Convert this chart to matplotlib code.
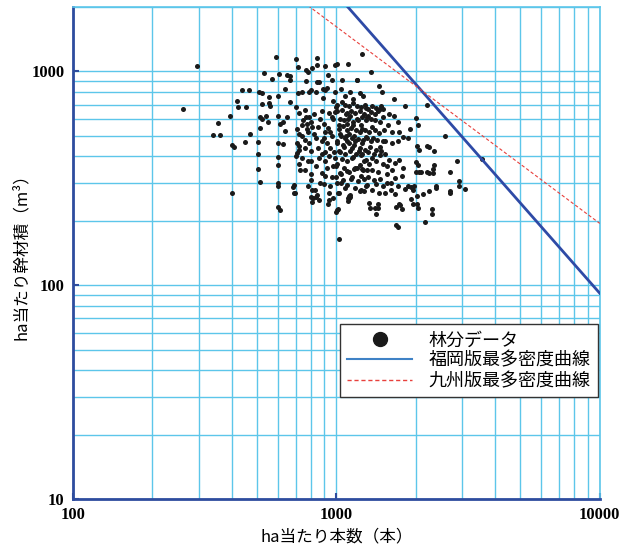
"""Stand data vs. maximum density curves (Fukuoka / Kyushu versions), log-log."""
import matplotlib
matplotlib.use("Agg")
import matplotlib.pyplot as plt
import numpy as np
from matplotlib.lines import Line2D
from matplotlib.ticker import LogLocator, NullFormatter, FixedFormatter, FixedLocator

JP = ["Noto Sans CJK JP", "DejaVu Sans"]

# stems per ha (N) and stem volume per ha (V, m3) for each stand
stand_n = [
    295, 262, 590, 703, 848, 718, 765, 780, 810, 845,
    905, 990, 1005, 1110, 530, 605, 570, 650, 665, 665,
    770, 845, 860, 930, 965, 1050, 1200, 640, 440, 465,
    510, 520, 555, 420, 422, 455, 520, 555, 560, 600,
    665, 718, 740, 790, 800, 835, 888, 905, 920, 888,
    975, 985, 1045, 1075, 1130, 1160, 1230, 1265, 396, 355,
    340, 362, 470, 400, 410, 450, 505, 505, 505, 512,
    400, 513, 513, 522, 540, 550, 602, 612, 625, 650,
    640, 602, 625, 602, 602, 602, 602, 602, 690, 698,
    705, 710, 720, 710, 720, 705, 720, 710, 730, 750,
    765, 775, 790, 762, 775, 810, 820, 790, 800, 780,
    800, 800, 810, 830, 845, 800, 865, 900, 905, 900,
    920, 905, 905, 920, 905, 900, 935, 945, 975, 990,
    1000, 1005, 1020, 1035, 1005, 1020, 990, 1005, 1035, 1040,
    1020, 1010, 1125, 1125, 1240, 1025, 1085, 1130, 1095, 1160,
    1085, 1150, 1115, 1180, 1215, 1250, 1160, 1200, 1250, 1305,
    1270, 1305, 1200, 1250, 1305, 1305, 1065, 1150,
    1250, 1350, 1195, 1455, 1490, 1650, 2200, 1820, 2010, 2050,
    1900, 1710, 1650, 1590, 1480, 1460, 1500, 1300, 1350, 1255,
    1240, 1360, 1460, 1570, 1630, 1730, 1790, 1870, 1710, 1630,
    1530, 1460, 1340, 1255, 2575, 2020, 2060, 2200, 2250, 2350,
    2010, 2050, 2010, 1980, 1920, 1950, 2060, 2090, 2200, 2250,
    2320, 2350, 2400, 2700, 2880, 2920, 2920, 2700, 2700, 3080,
    3560, 2250, 2030, 2130, 1920, 2020, 2300, 2170, 1740, 1680,
    1440, 1330, 1400, 1235, 1300, 1420, 1500, 1610, 1670, 1710,
    1780, 1870, 1790, 1730, 1670, 1590, 1530, 1460, 1360, 1300,
    1230, 1165, 1100, 1040, 1010, 1015, 1015, 1205, 1135, 1100,
    1115, 1115, 1670, 1730, 1830, 1610, 1530, 1360,
    930, 1000, 1110, 1110, 1340, 1440, 1420, 810, 815, 840,
    685, 690, 610, 2330, 2400, 2300, 1710, 1690, 1770, 2040,
    1960,
    1050, 1080, 1120, 1160, 1200, 1240, 1280, 1320, 1370, 1420,
    1010, 1050, 1100, 1140, 1180, 1230, 1270, 1320, 1400, 1440,
    1030, 1070, 1110, 1160, 1210, 1300, 1350, 1400, 1500, 1020,
    1060, 1100, 1140, 1190, 1230, 1280, 1330, 1400, 1450, 1520,
    1040, 1080, 1120, 1170, 1210, 1260, 1300, 1380, 1430, 1500,
    1010, 1060, 1100, 1170, 1230, 1290, 1350, 1420, 1480, 1030,
    1080, 1130, 1190, 1240, 1320, 1390, 1050, 1100, 1150, 1270,
    1330, 1420, 1500, 1560, 1000, 1070, 1120, 1180, 1260, 1360,
    1440, 1560, 1620, 1000, 1060, 1150, 1240, 1320, 1390, 1460,
    1560, 1080, 1180, 1270, 1450,
    720, 760, 820, 880, 940, 960, 740, 800, 850, 930,
    960, 840, 880, 740, 780, 720, 760, 850, 880, 950,
    980, 740, 860, 940, 970, 840, 760, 880, 960, 800,
    870, 950, 780, 940, 970, 860,
]
stand_v = [
    1055, 665, 1167, 1146, 1150, 1048, 1018, 995, 1035, 1075,
    1055, 1075, 1080, 1080, 980, 975, 920, 965, 950, 910,
    905, 890, 890, 960, 915, 910, 915, 830, 815, 815,
    800, 790, 760, 730, 680, 685, 705, 712, 690, 770,
    717, 795, 805, 800, 815, 805, 830, 815, 840, 750,
    730, 805, 830, 770, 805, 740, 795, 770, 620, 575,
    505, 505, 510, 455, 445, 465, 465, 410, 350, 305,
    270, 615, 545, 598, 620, 580, 620, 570, 580, 610,
    525, 460, 458, 397, 365, 302, 290, 232, 295, 270,
    680, 540, 510, 460, 448, 403, 370, 415, 345, 590,
    610, 570, 615, 480, 540, 550, 510, 460, 425, 383,
    383, 330, 280, 280, 265, 258, 600, 570, 520, 490,
    460, 420, 380, 355, 325, 298, 250, 520, 600, 645,
    680, 700, 560, 510, 460, 425, 395, 370, 335, 302,
    270, 225, 265, 258, 280, 165, 635, 620, 570, 560,
    500, 490, 460, 475, 425, 410, 398, 355, 350, 345,
    315, 295, 600, 540, 610, 490, 445, 440,
    1210, 990, 910, 850, 805, 740, 700, 690, 605, 560,
    540, 580, 620, 630, 690, 665, 665, 675, 645, 610,
    560, 550, 580, 560, 520, 520, 495, 490, 475, 460,
    475, 445, 445, 460, 497, 448, 430, 450, 445, 425,
    375, 365, 340, 290, 287, 278, 340, 340, 338, 333,
    333, 365, 290, 340, 380, 308, 290, 275, 270, 283,
    390, 275, 262, 267, 253, 240, 228, 198, 238, 192,
    240, 242, 230, 275, 290, 297, 292, 302, 318, 292,
    325, 292, 352, 385, 372, 385, 410, 405, 395, 385,
    365, 348, 343, 330, 302, 270, 228, 308, 315, 295,
    262, 257, 266, 240, 283, 280, 270, 280,
    240, 219, 255, 248, 230, 230, 216, 245, 255, 258,
    287, 270, 225, 350, 285, 215, 188, 232, 228, 230,
    241,
    720, 700, 690, 710, 690, 680, 700, 670, 690, 675,
    650, 660, 640, 655, 640, 650, 630, 620, 630, 650,
    600, 590, 600, 580, 590, 590, 600, 590, 610, 540,
    555, 530, 545, 530, 520, 530, 520, 530, 515, 530,
    500, 490, 510, 500, 485, 480, 495, 490, 480, 470,
    470, 455, 470, 455, 440, 430, 470, 430, 425, 420,
    410, 425, 410, 405, 420, 410, 390, 380, 395, 380,
    370, 380, 370, 360, 360, 355, 340, 355, 345, 345,
    340, 330, 345, 320, 310, 320, 325, 320, 310, 315,
    300, 285, 285, 275, 270,
    640, 660, 630, 650, 640, 610, 560, 580, 550, 545,
    500, 490, 470, 500, 520, 430, 440, 440, 410, 440,
    420, 395, 395, 400, 360, 360, 345, 335, 320, 310,
    300, 290, 290, 270, 255, 250,
]

# maximum density curves, V = a * N ** b
fukuoka_a, fukuoka_b = 3.65e7, -1.40
kyushu_a, kyushu_b = 9.31e5, -0.92

x_ticks = [100, 1000, 10000]
y_ticks = [10, 100, 1000]

GRID = "#5cc6ea"
AXIS = "#2e4c9e"

fig = plt.figure(figsize=(6.34, 5.54), dpi=100)
ax = fig.add_axes([0.115, 0.0993, 0.831, 0.888])
ax.set_xscale("log")
ax.set_yscale("log")
ax.set_xlim(100, 10000)
ax.set_ylim(10, 2000)

ax.xaxis.set_minor_locator(LogLocator(base=10, subs=np.arange(2, 10)))
ax.yaxis.set_minor_locator(LogLocator(base=10, subs=np.arange(2, 10)))
ax.xaxis.set_minor_formatter(NullFormatter())
ax.yaxis.set_minor_formatter(NullFormatter())
ax.xaxis.set_major_locator(FixedLocator(x_ticks))
ax.yaxis.set_major_locator(FixedLocator(y_ticks))
ax.xaxis.set_major_formatter(FixedFormatter([str(t) for t in x_ticks]))
ax.yaxis.set_major_formatter(FixedFormatter([str(t) for t in y_ticks]))

ax.grid(True, which="both", color=GRID, linewidth=1.0, zorder=0)
ax.set_axisbelow(True)
ax.tick_params(which="major", direction="in", length=4, width=1.5, color=AXIS, pad=6)
ax.tick_params(which="minor", length=0)
for lab in ax.get_xticklabels() + ax.get_yticklabels():
    lab.set_fontfamily("Liberation Serif")
    lab.set_fontweight("bold")
    lab.set_fontsize(12)

for side in ("left", "bottom"):
    ax.spines[side].set_color(AXIS)
    ax.spines[side].set_linewidth(2)
for side in ("top", "right"):
    ax.spines[side].set_color(GRID)
    ax.spines[side].set_linewidth(1.2)

ax.scatter(stand_n, stand_v, s=13, color="#1a1a1a", linewidths=0, zorder=3)

n_line = np.logspace(2, 4, 200)
ax.plot(n_line, fukuoka_a * n_line ** fukuoka_b, color="#2e4aa6", linewidth=2.0, zorder=4)
ax.plot(n_line, kyushu_a * n_line ** kyushu_b, color="#e8403c", linewidth=0.8,
        linestyle=(0, (3, 2)), zorder=4)

ax.set_xlabel("ha当たり本数（本）", family=JP, fontsize=12, labelpad=4)
ax.set_ylabel("ha当たり幹材積（m³）", family=JP, fontsize=12)
ax.yaxis.set_label_coords(-0.081, 0.5)

handles = [
    Line2D([], [], marker="o", linestyle="none", markersize=10, color="#1a1a1a"),
    Line2D([], [], color="#3f82c6", linewidth=1.5),
    Line2D([], [], color="#e8403c", linewidth=1.0, linestyle=(0, (3, 2))),
]
labels = ["林分データ", "福岡版最多密度曲線", "九州版最多密度曲線"]
leg = ax.legend(handles, labels, loc="lower right", bbox_to_anchor=(0.996, 0.207),
                prop={"family": JP, "size": 13}, frameon=True, fancybox=False,
                framealpha=1, edgecolor="#333333", handlelength=3.6,
                handletextpad=0.9, labelspacing=0.12, borderpad=0.4, borderaxespad=0)
leg.get_frame().set_linewidth(1.0)
leg.set_zorder(5)

fig.savefig("out.png", dpi=100)
